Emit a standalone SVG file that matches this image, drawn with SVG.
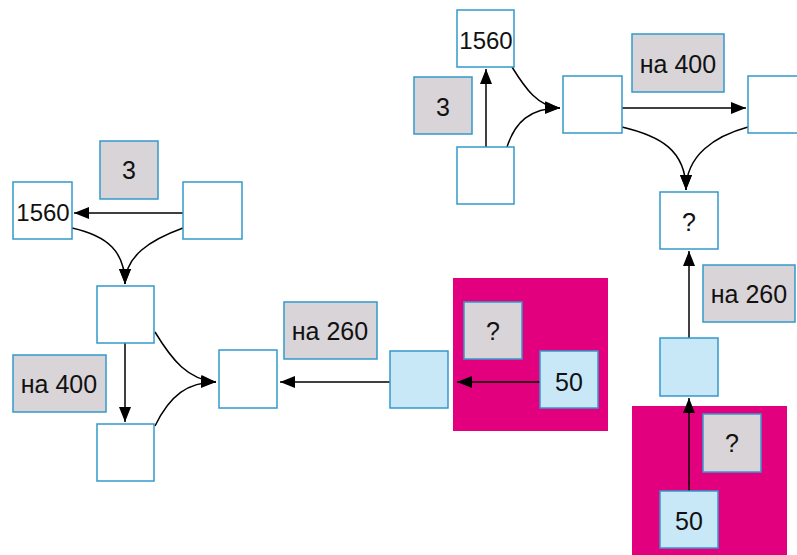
<svg xmlns="http://www.w3.org/2000/svg" width="797" height="555" viewBox="0 0 797 555">
<style>
.b{fill:#fff;stroke:#3399cc;stroke-width:1.5}
.g{fill:#d9d4d8;stroke:#3399cc;stroke-width:1.5}
.l{fill:#c8e8f8;stroke:#3399cc;stroke-width:1.5}
.m{fill:#e2007f}
.t{font-family:"Liberation Sans",Arial,sans-serif;font-size:25px;fill:#111;text-anchor:middle}
.n{font-size:24px}
.c{fill:none;stroke:#000;stroke-width:1.5;marker-end:url(#ah)}
</style>
<defs>
<marker id="ah" markerUnits="userSpaceOnUse" markerWidth="15" markerHeight="12" refX="15" refY="6" orient="auto">
<path d="M0,0 L15,6 L0,12 z" fill="#000"/>
</marker>
</defs>
<rect width="797" height="555" fill="#fff"/>
<g id="bg-left"><rect class="m" x="453" y="278" width="155" height="153"/></g>
<g id="bg-right"><rect class="m" x="632" y="406" width="155" height="149"/></g>
<g id="connectors">
<path class="c" d="M183,213 L74,213"/>
<path class="c" d="M72,228 C108,236 125,252 125,284"/>
<path class="c" d="M183,228 C150,240 125,256 125,284"/>
<path class="c" d="M125,343 L125,422"/>
<path class="c" d="M155,332 C172,360 188,380 216,382"/>
<path class="c" d="M155,426 C170,395 188,382 216,382"/>
<path class="c" d="M390,382 L280,382"/>
<path class="c" d="M540,382 L457,382"/>
<path class="c" d="M486,147 L486,69"/>
<path class="c" d="M512,67 C525,88 538,107 560,108"/>
<path class="c" d="M507,147 C515,122 530,108 560,108"/>
<path class="c" d="M622,108 L746,108"/>
<path class="c" d="M622,127 C660,136 686,150 686,190"/>
<path class="c" d="M748,127 C715,136 686,155 686,190"/>
<path class="c" d="M689,338 L689,251"/>
<path class="c" d="M689,491 L689,398"/>
</g>
<g id="l-3"><rect class="g" x="100" y="141" width="58" height="58"/><text class="t" x="129" y="179">3</text></g>
<g id="l-1560"><rect class="b" x="13" y="182" width="59" height="57"/><text class="t n" x="43" y="221">1560</text></g>
<g id="l-r1"><rect class="b" x="183" y="182" width="59" height="57"/></g>
<g id="l-m1"><rect class="b" x="97" y="286" width="57" height="57"/></g>
<g id="l-na400"><rect class="g" x="13" y="355" width="93" height="57"/><text class="t" x="59" y="393">на 400</text></g>
<g id="l-m2"><rect class="b" x="97" y="424" width="57" height="57"/></g>
<g id="l-c"><rect class="b" x="219" y="350" width="58" height="58"/></g>
<g id="l-na260"><rect class="g" x="284" y="302" width="93" height="57"/><text class="t" x="330" y="340">на 260</text></g>
<g id="l-lb"><rect class="l" x="390" y="351" width="58" height="57"/></g>
<g id="l-q"><rect class="g" x="464" y="302" width="58" height="57"/><text class="t" x="493" y="340">?</text></g>
<g id="l-50"><rect class="l" x="540" y="351" width="58" height="57"/><text class="t" x="569" y="391">50</text></g>
<g id="r-1560"><rect class="b" x="457" y="10" width="57" height="57"/><text class="t n" x="486" y="49">1560</text></g>
<g id="r-3"><rect class="g" x="414" y="77" width="58" height="57"/><text class="t" x="443" y="116">3</text></g>
<g id="r-b1"><rect class="b" x="457" y="147" width="57" height="57"/></g>
<g id="r-m"><rect class="b" x="563" y="76" width="59" height="57"/></g>
<g id="r-na400"><rect class="g" x="632" y="34" width="92" height="58"/><text class="t" x="678" y="73">на 400</text></g>
<g id="r-r"><rect class="b" x="748" y="76" width="58" height="57"/></g>
<g id="r-q1"><rect class="b" x="660" y="192" width="58" height="57"/><text class="t" x="689" y="231">?</text></g>
<g id="r-na260"><rect class="g" x="703" y="265" width="92" height="57"/><text class="t" x="749" y="303">на 260</text></g>
<g id="r-lb"><rect class="l" x="660" y="338" width="58" height="58"/></g>
<g id="r-q2"><rect class="g" x="703" y="414" width="58" height="58"/><text class="t" x="732" y="452">?</text></g>
<g id="r-50"><rect class="l" x="660" y="491" width="58" height="57"/><text class="t" x="689" y="530">50</text></g>
</svg>
